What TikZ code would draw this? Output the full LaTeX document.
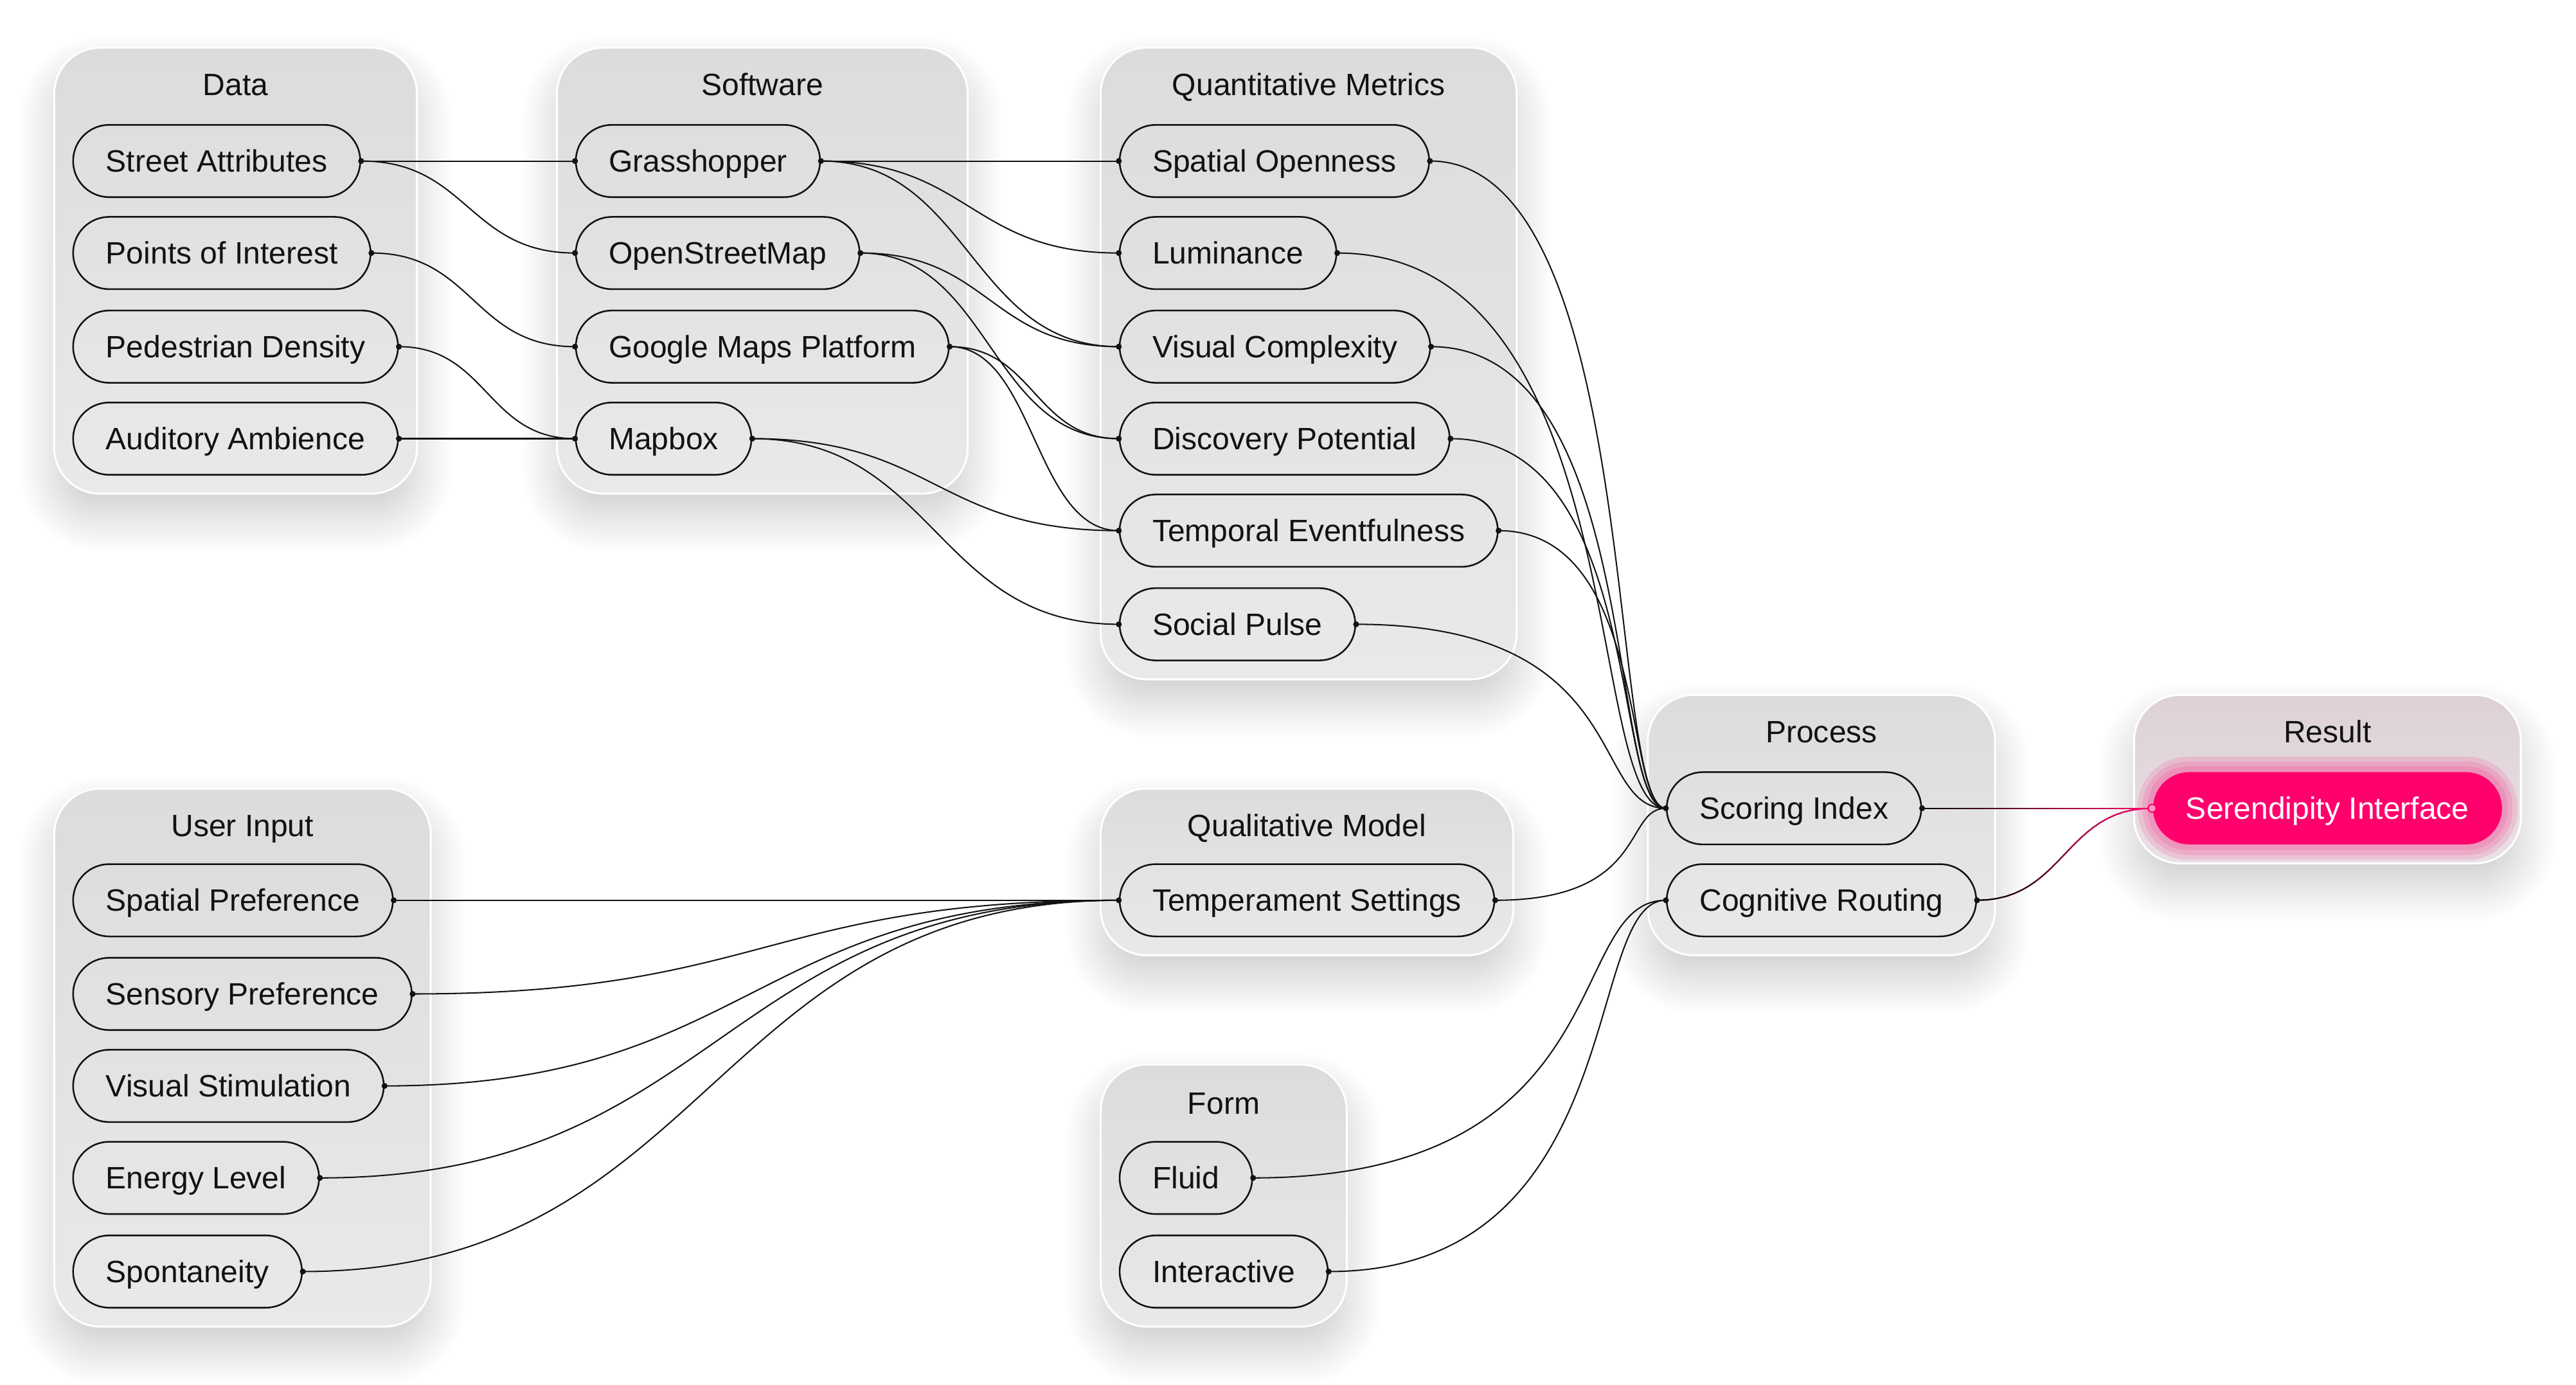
\documentclass[tikz,border=0pt]{standalone}
\usepackage{fontspec}
\setmainfont{Liberation Sans}
\usetikzlibrary{calc,fit,backgrounds,shadows.blur}

\definecolor{ink}{RGB}{18,18,18}
\definecolor{paneltop}{RGB}{220,220,220}
\definecolor{panelbot}{RGB}{233,233,233}
\definecolor{rosetop}{RGB}{221,209,214}
\definecolor{rosebot}{RGB}{233,225,229}
\definecolor{hot}{RGB}{255,0,108}

\tikzset{
  pill/.style={draw=ink, line width=0.5pt, rounded corners=11pt, minimum height=22pt,
    inner xsep=10pt, anchor=west, text=ink, text height=6.7pt, text depth=0pt,
    font=\fontsize{9.4}{11}\selectfont},
  hotpill/.style={pill, draw=none, fill=hot, text=white},
  group/.style={rounded corners=14pt, draw=white, line width=0.6pt, inner sep=5.5pt,
    top color=paneltop, bottom color=panelbot,
    blur shadow={shadow xshift=0pt, shadow yshift=-7pt, shadow blur radius=11pt,
      shadow blur steps=30, shadow opacity=20}},
  rosegroup/.style={group, top color=rosetop, bottom color=rosebot},
  title/.style={text=ink, text height=6.7pt, text depth=0pt, font=\fontsize{9.4}{11}\selectfont},
  flow/.style 2 args={to path={let \p1=(\tikztostart), \p2=(\tikztotarget),
    \n1={#1*(\x2-\x1)}, \n2={#2*(\x2-\x1)} in
    (\p1) .. controls +(\n1,0) and +(-\n2,0) .. (\p2) \tikztonodes}},
  link/.style={flow={0.5}{0.5}},
  fan/.style={flow={0.9}{0.25}},
  wire/.style={draw=ink, line width=0.4pt},
}

\begin{document}
\begin{tikzpicture}[x=0.5pt, y=-0.5pt]
\useasboundingbox (0,0) rectangle (1568,843);

% Data
\coordinate (dtop) at (44,40);
\node[pill] (street) at (44,98) {Street Attributes};
\node[pill] (poi) at (44,154) {Points of Interest};
\node[pill] (ped) at (44,211) {Pedestrian Density};
\node[pill] (aud) at (44,267) {Auditory Ambience};

% Software
\coordinate (stop) at (350,40);
\node[pill] (grass) at (350,98) {Grasshopper};
\node[pill] (osm) at (350,154) {OpenStreetMap};
\node[pill] (gmaps) at (350,211) {Google Maps Platform};
\node[pill] (mapbox) at (350,267) {Mapbox};

% Quantitative Metrics
\coordinate (qtop) at (681,40);
\node[pill] (open) at (681,98) {Spatial Openness};
\node[pill] (lum) at (681,154) {Luminance};
\node[pill] (vis) at (681,211) {Visual Complexity};
\node[pill] (disc) at (681,267) {Discovery Potential};
\node[pill] (temp) at (681,323) {Temporal Eventfulness};
\node[pill] (social) at (681,380) {Social Pulse};

% Process
\coordinate (ptop) at (1014,434);
\node[pill] (score) at (1014,492) {Scoring Index};
\node[pill] (route) at (1014,548) {Cognitive Routing};

% Result
\coordinate (rtop) at (1310,434);
\node[hotpill] (seren) at (1310,492) {Serendipity Interface};

% User Input
\coordinate (utop) at (44,491);
\node[pill] (spat) at (44,548) {Spatial Preference};
\node[pill] (sens) at (44,605) {Sensory Preference};
\node[pill] (vstim) at (44,661) {Visual Stimulation};
\node[pill] (energy) at (44,717) {Energy Level};
\node[pill] (spont) at (44,774) {Spontaneity};

% Qualitative Model
\coordinate (mtop) at (681,491);
\node[pill] (temper) at (681,548) {Temperament Settings};

% Form
\coordinate (ftop) at (681,659);
\node[pill] (fluid) at (681,717) {Fluid};
\node[pill] (inter) at (681,774) {Interactive};

% group panels
\begin{scope}[on background layer]
\node[group, fit=(dtop)(street)(poi)(ped)(aud)] (gdata) {};
\node[group, fit=(stop)(grass)(osm)(gmaps)(mapbox)] (gsoft) {};
\node[group, fit=(qtop)(open)(lum)(vis)(disc)(temp)(social)] (gquant) {};
\node[group, fit=(ptop)(score)(route)] (gproc) {};
\node[rosegroup, fit=(rtop)(seren)] (gres) {};
\node[group, fit=(utop)(spat)(sens)(vstim)(energy)(spont)] (guser) {};
\node[group, fit=(mtop)(temper)] (gqual) {};
\node[group, fit=(ftop)(fluid)(inter)] (gform) {};
% glow
\foreach \g/\r in {4.5/15.5pt, 3/14pt, 1.5/12.5pt}
  \fill[hot, opacity=0.12, rounded corners=\r]
    ($(seren.south west)+(-\g pt,-\g pt)$) rectangle ($(seren.north east)+(\g pt,\g pt)$);
\end{scope}

% titles
\node[title] at ($(gdata.north)+(0,23)$) {Data};
\node[title] at ($(gsoft.north)+(0,23)$) {Software};
\node[title] at ($(gquant.north)+(0,23)$) {Quantitative Metrics};
\node[title] at ($(gproc.north)+(0,23)$) {Process};
\node[title] at ($(gres.north)+(0,23)$) {Result};
\node[title] at ($(guser.north)+(0,23)$) {User Input};
\node[title] at ($(gqual.north)+(0,23)$) {Qualitative Model};
\node[title] at ($(gform.north)+(0,24)$) {Form};

% Data -> Software
\draw[wire] (street.east) to[link] (grass.west);
\draw[wire] (street.east) to[link] (osm.west);
\draw[wire] (poi.east) to[link] (gmaps.west);
\draw[wire] (ped.east) to[link] (mapbox.west);
\draw[wire] (aud.east) to[link] (mapbox.west);

% Software -> Quantitative Metrics
\draw[wire] (grass.east) to[link] (open.west);
\draw[wire] (grass.east) to[link] (lum.west);
\draw[wire] (grass.east) to[link] (vis.west);
\draw[wire] (osm.east) to[link] (vis.west);
\draw[wire] (osm.east) to[link] (disc.west);
\draw[wire] (gmaps.east) to[link] (disc.west);
\draw[wire] (gmaps.east) to[link] (temp.west);
\draw[wire] (mapbox.east) to[link] (temp.west);
\draw[wire] (mapbox.east) to[link] (social.west);

% Quantitative Metrics -> Process
\draw[wire] (open.east) to[fan] (score.west);
\draw[wire] (lum.east) to[fan] (score.west);
\draw[wire] (vis.east) to[fan] (score.west);
\draw[wire] (disc.east) to[fan] (score.west);
\draw[wire] (temp.east) to[fan] (score.west);
\draw[wire] (social.east) to[fan] (score.west);

% User Input -> Qualitative Model -> Process
\draw[wire] (spat.east) to[link] (temper.west);
\draw[wire] (sens.east) to[link] (temper.west);
\draw[wire] (vstim.east) to[link] (temper.west);
\draw[wire] (energy.east) to[link] (temper.west);
\draw[wire] (spont.east) to[link] (temper.west);
\draw[wire] (temper.east) to[fan] (score.west);

% Form -> Process
\draw[wire] (fluid.east) to[fan] (route.west);
\draw[wire] (inter.east) to[fan] (route.west);

% Process -> Result, dark to pink
\foreach \i in {0,...,23}{
  \pgfmathsetmacro\ta{\i/24}
  \pgfmathsetmacro\tb{(\i+1)/24}
  \pgfmathsetmacro\tc{100*(\i+0.5)/24}
  \draw[line width=0.45pt, line cap=round, hot!\tc!black]
    ($(score.east)!\ta!(seren.west)$) -- ($(score.east)!\tb!(seren.west)$);
  \path (route.east) to[link] coordinate[pos=\ta] (ra) coordinate[pos=\tb] (rb) (seren.west);
  \draw[line width=0.45pt, line cap=round, hot!\tc!black] (ra) -- (rb);
}

% end dots
\foreach \p in {street.east, poi.east, ped.east, aud.east,
  grass.west, osm.west, gmaps.west, mapbox.west,
  grass.east, osm.east, gmaps.east, mapbox.east,
  open.west, lum.west, vis.west, disc.west, temp.west, social.west,
  open.east, lum.east, vis.east, disc.east, temp.east, social.east,
  spat.east, sens.east, vstim.east, energy.east, spont.east,
  temper.west, temper.east, fluid.east, inter.east,
  score.west, route.west, score.east, route.east}
  \fill[ink] (\p) circle (0.9pt);
\filldraw[draw=hot, fill=hot!40!white, line width=0.4pt] (seren.west) circle (1.2pt);

\end{tikzpicture}
\end{document}
